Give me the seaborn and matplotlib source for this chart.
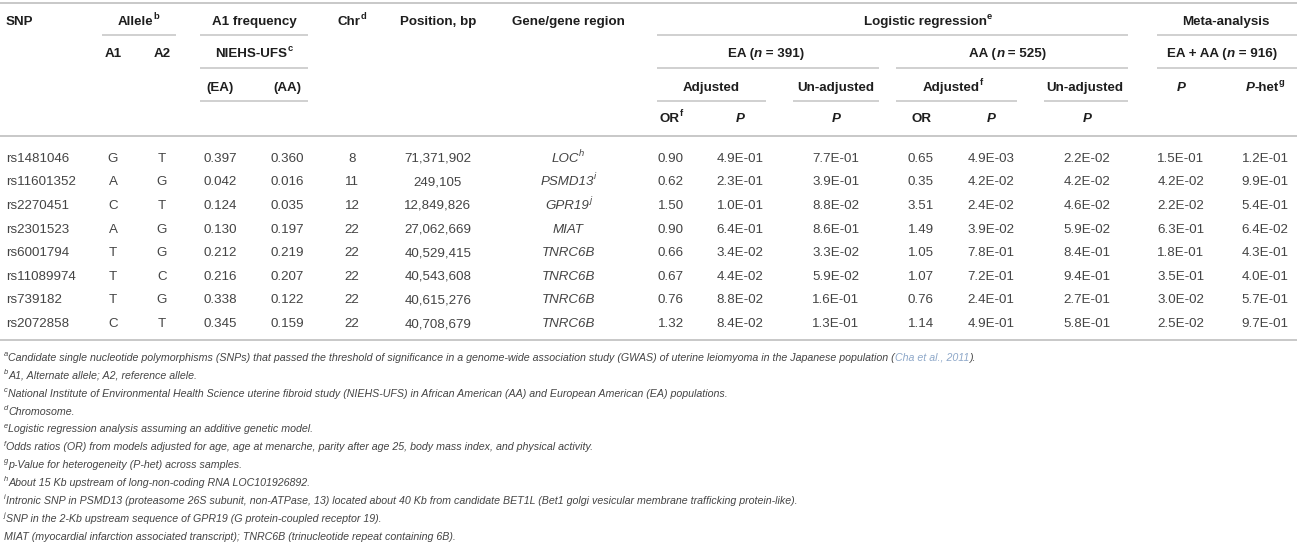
import matplotlib
matplotlib.use("Agg")
import matplotlib.pyplot as plt
import seaborn as sns

# ---------------- data ----------------
snps = ["rs1481046", "rs11601352", "rs2270451", "rs2301523",
        "rs6001794", "rs11089974", "rs739182", "rs2072858"]
allele_a1 = ["G", "A", "C", "A", "T", "T", "T", "C"]
allele_a2 = ["T", "G", "T", "G", "G", "C", "G", "T"]
freq_ea = [0.397, 0.042, 0.124, 0.130, 0.212, 0.216, 0.338, 0.345]
freq_aa = [0.360, 0.016, 0.035, 0.197, 0.219, 0.207, 0.122, 0.159]
chrom = [8, 11, 12, 22, 22, 22, 22, 22]
position = [71371902, 249105, 12849826, 27062669,
            40529415, 40543608, 40615276, 40708679]
genes = ["LOC", "PSMD13", "GPR19", "MIAT", "TNRC6B", "TNRC6B", "TNRC6B", "TNRC6B"]
gene_notes = ["h", "i", "j", "", "", "", "", ""]
or_ea = [0.90, 0.62, 1.50, 0.90, 0.66, 0.67, 0.76, 1.32]
p_ea_adj = [4.9e-01, 2.3e-01, 1.0e-01, 6.4e-01, 3.4e-02, 4.4e-02, 8.8e-02, 8.4e-02]
p_ea_unadj = [7.7e-01, 3.9e-01, 8.8e-02, 8.6e-01, 3.3e-02, 5.9e-02, 1.6e-01, 1.3e-01]
or_aa = [0.65, 0.35, 3.51, 1.49, 1.05, 1.07, 0.76, 1.14]
p_aa_adj = [4.9e-03, 4.2e-02, 2.4e-02, 3.9e-02, 7.8e-01, 7.2e-01, 2.4e-01, 4.9e-01]
p_aa_unadj = [2.2e-02, 4.2e-02, 4.6e-02, 5.9e-02, 8.4e-01, 9.4e-01, 2.7e-01, 5.8e-01]
p_meta = [1.5e-01, 4.2e-02, 2.2e-02, 6.3e-01, 1.8e-01, 3.5e-01, 3.0e-02, 2.5e-02]
p_het = [1.2e-01, 9.9e-01, 5.4e-01, 6.4e-02, 4.3e-01, 4.0e-01, 5.7e-01, 9.7e-01]

footnote_marks = ["a", "b", "c", "d", "e", "f", "g", "h", "i", "j", ""]
footnote_texts = [
    "Candidate single nucleotide polymorphisms (SNPs) that passed the threshold of significance in a genome-wide association study (GWAS) of uterine leiomyoma in the Japanese population (",
    "A1, Alternate allele; A2, reference allele.",
    "National Institute of Environmental Health Science uterine fibroid study (NIEHS-UFS) in African American (AA) and European American (EA) populations.",
    "Chromosome.",
    "Logistic regression analysis assuming an additive genetic model.",
    "Odds ratios (OR) from models adjusted for age, age at menarche, parity after age 25, body mass index, and physical activity.",
    "p-Value for heterogeneity (P-het) across samples.",
    "About 15 Kb upstream of long-non-coding RNA LOC101926892.",
    "Intronic SNP in PSMD13 (proteasome 26S subunit, non-ATPase, 13) located about 40 Kb from candidate BET1L (Bet1 golgi vesicular membrane trafficking protein-like).",
    "SNP in the 2-Kb upstream sequence of GPR19 (G protein-coupled receptor 19).",
    "MIAT (myocardial infarction associated transcript); TNRC6B (trinucleotide repeat containing 6B).",
]
citation = "Cha et al., 2011"

# ---------------- style ----------------
sns.set_theme(style="white")
plt.rcParams["font.family"] = ["Liberation Sans", "DejaVu Sans"]

W, H = 1297, 545
fig = plt.figure(figsize=(W / 100, H / 100), dpi=100)
ax = fig.add_axes([0, 0, 1, 1])
ax.set_xlim(0, W)
ax.set_ylim(H, 0)
ax.axis("off")
renderer = fig.canvas.get_renderer()
PX = 100 / 72

C_HEAD = "#1e1e1e"
C_DATA = "#444444"
C_RULE = "#c4c4c4"
C_LINK = "#8ea8c9"

FS_H = 9.6
FS_D = 9.6
FS_F = 7.7


def measure(s, size, weight, style):
    kw = dict(fontsize=size, fontweight=weight, fontstyle=style)
    t1 = ax.text(0, 0, "|" + s + "|", **kw)
    t2 = ax.text(0, 0, "||", **kw)
    w = t1.get_window_extent(renderer).width - t2.get_window_extent(renderer).width
    t1.remove()
    t2.remove()
    return w


def rich(x, yc, parts, size, ha="center", weight="normal", color=C_DATA):
    items = []
    for p in parts:
        if isinstance(p, str):
            p = (p, {})
        s, o = p
        sup = o.get("sup", False)
        sz = size * 0.7 if sup else size
        wt = o.get("weight", weight)
        st = o.get("style", "normal")
        items.append((s, sz, wt, st, sup, o.get("color", color),
                      measure(s, sz, wt, st)))
    total = sum(i[-1] for i in items)
    if ha == "center":
        cx = x - total / 2
    elif ha == "right":
        cx = x - total
    else:
        cx = x
    base = yc + 0.36 * size * PX
    for s, sz, wt, st, sup, col, w in items:
        yb = base - 0.45 * size * PX if sup else base
        ax.text(cx, yb, s, fontsize=sz, fontweight=wt, fontstyle=st,
                color=col, ha="left", va="baseline")
        cx += w


def head(x, yc, parts, ha="center"):
    rich(x, yc, parts, FS_H, ha=ha, weight="bold", color=C_HEAD)


def rule(y, x0, x1, lw=1.1):
    ax.hlines(y, x0, x1, color=C_RULE, lw=lw)


# ---------------- header ----------------
Y1, Y2, Y3, Y4 = 20, 52, 86, 117
L1, L2, L3 = 35, 68, 101
SUP = {"sup": True}
IT = {"style": "italic"}

rule(3, 0, W, 1.3)
head(6, Y1, ["SNP"], ha="left")
head(138, Y1, ["Allele", ("b", SUP)])
head(254, Y1, ["A1 frequency"])
head(352, Y1, ["Chr", ("d", SUP)])
head(438, Y1, ["Position, bp"])
head(568, Y1, ["Gene/gene region"])
head(928, Y1, ["Logistic regression", ("e", SUP)])
head(1226, Y1, ["Meta-analysis"])

rule(L1, 102, 176)
rule(L1, 200, 308)
rule(L1, 657, 1128)
rule(L1, 1157, W)

head(113, Y2, ["A1"])
head(162, Y2, ["A2"])
head(254, Y2, ["NIEHS-UFS", ("c", SUP)])
head(766, Y2, ["EA (", ("n", IT), " = 391)"])
head(1008, Y2, ["AA (", ("n", IT), " = 525)"])
head(1222, Y2, ["EA + AA (", ("n", IT), " = 916)"])

rule(L2, 200, 308)
rule(L2, 657, 879)
rule(L2, 896, 1128)
rule(L2, 1157, W)

head(220, Y3, ["(EA)"])
head(287, Y3, ["(AA)"])
head(711, Y3, ["Adjusted"])
head(836, Y3, ["Un-adjusted"])
head(953, Y3, ["Adjusted", ("f", SUP)])
head(1085, Y3, ["Un-adjusted"])
head(1181, Y3, [("P", IT)])
head(1265, Y3, [("P", IT), "-het", ("g", SUP)])

rule(L3, 200, 308)
rule(L3, 657, 766)
rule(L3, 793, 879)
rule(L3, 896, 1017)
rule(L3, 1044, 1128)

head(671, Y4, ["OR", ("f", SUP)])
head(740, Y4, [("P", IT)])
head(836, Y4, [("P", IT)])
head(921, Y4, ["OR"])
head(991, Y4, [("P", IT)])
head(1087, Y4, [("P", IT)])

rule(136, 0, W, 1.3)

# ---------------- body ----------------
row0, row_step = 157, 23.6
for i, snp in enumerate(snps):
    y = row0 + i * row_step
    rich(6, y, [snp], FS_D, ha="left")
    rich(113, y, [allele_a1[i]], FS_D)
    rich(162, y, [allele_a2[i]], FS_D)
    rich(220, y, [f"{freq_ea[i]:.3f}"], FS_D)
    rich(287, y, [f"{freq_aa[i]:.3f}"], FS_D)
    rich(352, y, [str(chrom[i])], FS_D)
    rich(438, y, [f"{position[i]:,}"], FS_D)
    gparts = [(genes[i], IT)]
    if gene_notes[i]:
        gparts.append((gene_notes[i], {"sup": True, "style": "italic"}))
    rich(568, y, gparts, FS_D)
    rich(671, y, [f"{or_ea[i]:.2f}"], FS_D)
    rich(740, y, [f"{p_ea_adj[i]:.1E}"], FS_D)
    rich(836, y, [f"{p_ea_unadj[i]:.1E}"], FS_D)
    rich(921, y, [f"{or_aa[i]:.2f}"], FS_D)
    rich(991, y, [f"{p_aa_adj[i]:.1E}"], FS_D)
    rich(1087, y, [f"{p_aa_unadj[i]:.1E}"], FS_D)
    rich(1181, y, [f"{p_meta[i]:.1E}"], FS_D)
    rich(1265, y, [f"{p_het[i]:.1E}"], FS_D)

rule(340, 0, W, 1.3)

# ---------------- footnotes ----------------
foot0, foot_step = 357, 17.9
for k, (mark, txt) in enumerate(zip(footnote_marks, footnote_texts)):
    y = foot0 + k * foot_step
    parts = []
    if mark:
        parts.append((mark, {"sup": True, "style": "italic"}))
    parts.append((txt, IT))
    if k == 0:
        parts.append((citation, {"style": "italic", "color": C_LINK}))
        parts.append((").", IT))
    rich(4, y, parts, FS_F, ha="left")

fig.savefig("out.png", dpi=100)
